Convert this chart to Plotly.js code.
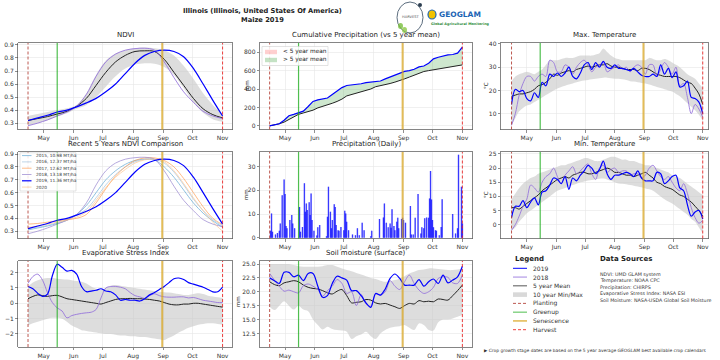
<!DOCTYPE html>
<html><head><meta charset="utf-8">
<script src="https://cdn.plot.ly/plotly-3.0.1.min.js"></script>
<style>html,body{margin:0;padding:0;background:#fff;}#chart{width:720px;height:360px;}</style>
</head><body><div id="chart"></div>
<script>
// ---------------- DATA ----------------
const monthTicks = ['2019-05-01','2019-06-01','2019-07-01','2019-08-01','2019-09-01','2019-10-01','2019-11-01'];
const monthLabels = ['May','Jun','Jul','Aug','Sep','Oct','Nov'];
const eventNames = ['Planting','Greenup','Senescence','Harvest'];
const eventDates = ['2019-04-15','2019-05-15','2019-08-31','2019-11-01'];

const ndviDates = ['2019-04-15','2019-04-25','2019-05-05','2019-05-15','2019-05-25','2019-06-04','2019-06-14','2019-06-24','2019-07-04','2019-07-14','2019-07-24','2019-08-03','2019-08-13','2019-08-23','2019-09-02','2019-09-12','2019-09-22','2019-10-02','2019-10-12','2019-10-22','2019-11-01'];
const ndvi2019 = [0.32,0.34,0.36,0.385,0.40,0.425,0.455,0.49,0.54,0.60,0.68,0.76,0.82,0.85,0.86,0.85,0.81,0.72,0.60,0.475,0.355];
const ndvi2018 = [0.28,0.30,0.325,0.355,0.385,0.43,0.52,0.66,0.77,0.83,0.86,0.872,0.875,0.86,0.77,0.65,0.54,0.46,0.39,0.355,0.335];
const ndviMean = [0.32,0.335,0.35,0.37,0.39,0.43,0.49,0.59,0.69,0.77,0.82,0.85,0.855,0.85,0.79,0.69,0.59,0.49,0.41,0.365,0.34];
const ndviMax  = [0.355,0.37,0.385,0.40,0.415,0.44,0.53,0.67,0.78,0.835,0.86,0.875,0.88,0.875,0.86,0.82,0.74,0.64,0.53,0.44,0.37];
const ndviMin  = [0.28,0.30,0.32,0.35,0.375,0.41,0.44,0.50,0.58,0.66,0.72,0.75,0.76,0.755,0.73,0.67,0.57,0.46,0.38,0.33,0.31];
const ndvi2015 = [0.31,0.325,0.34,0.36,0.385,0.43,0.50,0.60,0.70,0.77,0.82,0.85,0.86,0.855,0.80,0.72,0.62,0.52,0.44,0.38,0.33];
const ndvi2016 = [0.32,0.33,0.345,0.365,0.39,0.43,0.47,0.56,0.66,0.74,0.80,0.84,0.86,0.86,0.83,0.76,0.66,0.55,0.46,0.39,0.34];
const ndvi2017 = [0.355,0.36,0.37,0.38,0.39,0.40,0.43,0.52,0.63,0.73,0.80,0.85,0.87,0.87,0.85,0.80,0.71,0.60,0.49,0.40,0.35];
const ndvi2020 = [0.33,0.34,0.355,0.37,0.385,0.41,0.45,0.54,0.64,0.72,0.78,0.83,0.855,0.86,0.84,0.77,0.67,0.56,0.46,0.37,0.30];
const cmpLabels = ['2015, 10.98 MT/ha','2016, 12.37 MT/ha','2017, 12.62 MT/ha','2018, 13.18 MT/ha','2019, 11.36 MT/ha','2020'];

const d5 = ['2019-04-15','2019-04-20','2019-04-25','2019-04-30','2019-05-05','2019-05-10','2019-05-15','2019-05-20','2019-05-25','2019-05-30','2019-06-04','2019-06-09','2019-06-14','2019-06-19','2019-06-24','2019-06-29','2019-07-04','2019-07-09','2019-07-14','2019-07-19','2019-07-24','2019-07-29','2019-08-03','2019-08-08','2019-08-13','2019-08-18','2019-08-23','2019-08-28','2019-09-02','2019-09-07','2019-09-12','2019-09-17','2019-09-22','2019-09-27','2019-10-02','2019-10-07','2019-10-12','2019-10-17','2019-10-22','2019-10-27','2019-11-01'];
const cum2019 = [0,10,22,60,110,125,140,160,210,265,282,292,302,340,380,415,438,442,447,457,470,475,478,487,510,530,550,575,592,600,615,640,650,680,728,745,760,770,775,790,855];
const cumMean = [0,10,22,40,70,100,125,140,155,170,195,210,225,245,265,290,325,340,355,370,385,400,425,435,445,460,475,490,510,530,550,570,590,600,610,620,630,640,648,655,662];

const esi2019 = [1.1,0.95,0.65,0.45,0.6,1.8,2.55,2.35,2.1,2.15,1.9,1.1,0.76,0.8,0.85,0.95,0.8,0.75,0.55,0.2,0.25,0.2,0.2,0.15,0.3,0.55,0.7,0.9,1.1,1.35,1.6,1.65,1.55,1.35,1.25,1.15,1.05,0.9,0.75,0.75,1.05];
const esi2018 = [1.3,1.75,1.9,1.5,0.7,0.05,-0.3,-0.5,-0.95,-0.8,-0.72,-0.66,-0.62,-0.58,-0.4,0.35,1.0,1.1,1.1,1.05,0.95,0.7,0.5,0.42,0.33,0.5,0.62,0.5,0.42,0.4,0.4,0.42,0.42,0.35,0.38,0.3,0.2,0.15,0.1,0.05,0.05];
const esiMean = [0.3,0.45,0.55,0.5,0.45,0.5,0.52,0.42,0.3,0.25,0.2,0.15,0.1,0.05,0.0,-0.05,0.05,0.15,0.25,0.3,0.3,0.32,0.3,0.3,0.28,0.25,0.2,0.15,0.05,-0.05,-0.1,-0.1,-0.05,-0.05,0.0,0.0,-0.05,-0.1,-0.15,-0.2,-0.25];
const esiMax  = [1.1,1.35,1.5,1.6,1.65,1.65,1.6,1.57,1.55,1.5,1.45,1.4,1.3,1.1,0.95,0.9,1.0,1.15,1.2,1.15,1.1,1.05,1.0,0.95,0.9,0.85,0.8,0.75,0.72,0.7,0.65,0.6,0.55,0.55,0.6,0.65,0.6,0.5,0.45,0.4,0.35];
const esiMin  = [-1.45,-1.3,-1.2,-1.1,-1.0,-0.95,-0.95,-1.0,-1.2,-1.45,-1.6,-1.75,-1.8,-1.85,-1.9,-1.95,-2.0,-2.0,-2.05,-2.1,-2.1,-2.15,-2.15,-2.2,-2.2,-2.25,-2.3,-2.35,-2.4,-2.25,-2.1,-1.9,-1.75,-1.6,-1.5,-1.4,-1.35,-1.3,-1.3,-1.35,-1.4];

const soil2019 = [22.5,22.0,21.5,23.5,23.5,22.7,23.0,22.0,23.3,23.3,21.0,19.0,19.3,21.5,22.8,22.5,22.1,20.2,20.2,19.3,18.0,17.2,19.7,19.4,20.5,22.4,23.2,22.4,21.2,21.2,21.2,22.2,21.0,21.8,22.3,21.5,23.0,21.6,22.1,22.7,24.6];
const soil2018 = [23.3,22.1,21.0,20.1,20.3,20.0,19.8,21.1,21.4,21.0,20.4,19.2,20.2,21.0,22.2,21.5,19.7,20.0,17.5,19.5,17.8,17.4,19.6,19.4,20.0,22.0,21.0,20.4,21.8,23.0,21.5,20.3,19.7,20.0,20.8,22.4,22.7,22.6,21.6,21.5,23.0];
const soilMean = [21.8,21.3,21.1,21.6,21.8,22.0,21.8,21.2,20.8,20.6,20.5,20.2,19.8,19.6,20.1,20.4,19.3,18.0,18.1,18.2,18.6,18.5,18.0,17.8,17.9,17.6,17.3,17.0,17.5,17.9,17.8,18.4,18.2,18.3,18.2,18.7,18.6,18.5,19.3,20.2,21.2];
const soilMax  = [25.0,25.0,25.0,25.0,25.0,24.8,24.6,24.5,24.5,24.5,24.5,24.6,24.8,24.8,24.5,24.2,23.9,23.7,23.4,23.1,22.8,22.5,22.3,22.0,21.8,21.9,22.1,22.4,22.8,23.3,23.6,23.9,24.0,24.2,24.2,24.1,24.0,23.9,23.9,24.0,24.2];
const soilMin  = [17.3,16.7,17.5,18.3,17.5,16.8,17.5,16.8,16.5,15.0,14.0,13.2,13.7,13.3,13.1,13.0,12.8,11.5,12.0,12.3,12.8,12.0,11.5,12.5,13.1,13.5,13.7,13.8,14.0,13.5,13.1,14.3,14.0,13.1,13.0,14.5,15.0,15.0,15.2,15.5,15.8];

const tDates = ['2019-04-15','2019-04-19','2019-04-23','2019-04-27','2019-05-01','2019-05-05','2019-05-09','2019-05-13','2019-05-17','2019-05-21','2019-05-25','2019-05-29','2019-06-02','2019-06-06','2019-06-10','2019-06-14','2019-06-18','2019-06-22','2019-06-26','2019-06-30','2019-07-04','2019-07-08','2019-07-12','2019-07-16','2019-07-20','2019-07-24','2019-07-28','2019-08-01','2019-08-05','2019-08-09','2019-08-13','2019-08-17','2019-08-21','2019-08-25','2019-08-29','2019-09-02','2019-09-06','2019-09-10','2019-09-14','2019-09-18','2019-09-22','2019-09-26','2019-09-30','2019-10-04','2019-10-08','2019-10-12','2019-10-16','2019-10-20','2019-10-24','2019-10-28','2019-11-01'];
const tmax2019 = [14,20.5,19.5,20,16.5,15.5,19,17,23.5,22,27,26,27.5,26,27.5,30,26,25,27.5,31,32,29,32,30,32.5,30,29.5,31,29.5,29.5,29,28.5,29.5,28,26.5,26,26,27,26,31,27,29.5,25.5,28,21.5,22,24,17,16.5,15,10];
const tmax2018 = [5,10,18,23,26,26,24,26,27,26,33,32,28,28,31,30,27,30,32,33,31,28,30,31,32,28,29,30,31,29,30,28,30,31,30,27,31,31,26,29,32,30,27,30,22,23,17,10,14,12,8.5];
const tmaxMean = [17.5,18,18.5,18.5,19,19.5,20.5,22,22.5,23.5,25,27,26.5,27.5,28,28.5,28,29,29.5,30,30.5,30,30.5,31,31,31.5,30.5,30,30,29.5,29,29,29,28.5,29.5,29.5,29,28,27,26.5,26,26,26,26,25.5,24.5,23.5,23,21,18.5,14];
const tmaxHi = [24,26,27,27.5,28,27.5,27,28,29,31,33,33,33,33.5,34,34,34,34.5,35,35,35,35,35.5,36,38,36.5,35,34,33.5,33,33,33,33,33,33,33,34,33.5,33,33,33.5,33,32,31,30,28.5,27,26,25,23,21];
const tmaxLo = [5,8,11,12.5,13.5,14,15,16,17,18,19,20,20.8,21.5,22,22.5,23,23.5,24,24.3,24.5,24.8,25,25.2,25.5,25.5,25.2,25,25,24.8,24.5,24,23.8,23.5,23.2,23,22.5,22,21.5,21,20.5,20,19.5,18.5,17.5,16,14.5,13,11.5,9.5,7];
const tmin2019 = [2.5,6.5,6.5,8.5,6,8,9.5,7,11.5,12,14,16.5,16,14.5,17,12.5,16.5,15.5,17.5,19,21,20,18,19.5,22.5,18,16,17.5,17.5,18,18.5,18,17,19,16.5,15.5,15.5,15.5,18.5,18,14.5,15.5,17,17.5,13,12,7,3,4.5,5,2];
const tmin2018 = [-2,0,3,6.5,9,14,13,11.5,15,17,18,20,17,14.5,17.5,19,20.5,18,19,20.5,21.5,18,16,20,21,18.5,19.5,20,18.5,19,19,17.5,18,18,16.5,17.5,20,21,19,17,16,17,15,13,12,14.5,11,6,2.5,0.5,1.5];
const tminMean = [6,6,5.5,6.5,7.5,8.5,9.5,10.5,12,13,14,15,16,16.5,17,16.5,17.5,18,18.5,18.5,18,18,18.5,19,19.5,20,19.5,18.5,18.5,18,17.5,17.5,17,17.5,18,18.5,17.5,16.5,15,14.5,13.5,13,12.5,11.5,10.5,10,9,8,6.5,5,3];
const tminHi = [9,11,13,14.5,15.5,16.5,17,18,18.5,19,19.5,20,20.5,21,21,21.5,22,22.5,23,23.5,23.5,23,22.5,22.5,23,23.5,24,24,23.5,23,23,22.5,22.5,22,21.5,21,21,20.5,20,19.5,19,18.5,17.5,17,16.5,15.5,14.5,13.5,12.5,11.5,10.5];
const tminLo = [-2,-1,1,2.5,4,5,6,7,8,9,10,11,12,12.5,13,13.5,14,14.5,15,15.3,15.6,15.8,16,16.2,16.3,16,15.5,15,14.6,14.5,14.3,14,13.8,13.5,13.2,12.8,12.5,12,11,10,9,8.2,7.5,6.5,5.5,4.5,3.5,2,1,-1,-3];

const rainDates = ['2019-04-16','2019-04-17','2019-04-18','2019-04-21','2019-04-23','2019-04-25','2019-04-26','2019-04-28','2019-04-30','2019-05-01','2019-05-02','2019-05-03','2019-05-06','2019-05-08','2019-05-09','2019-05-11','2019-05-16','2019-05-17','2019-05-19','2019-05-21','2019-05-22','2019-05-23','2019-05-24','2019-05-26','2019-05-27','2019-05-28','2019-05-29','2019-05-31','2019-06-03','2019-06-04','2019-06-06','2019-06-13','2019-06-14','2019-06-15','2019-06-17','2019-06-18','2019-06-19','2019-06-21','2019-06-22','2019-06-23','2019-06-25','2019-06-26','2019-06-28','2019-07-01','2019-07-02','2019-07-03','2019-07-04','2019-07-06','2019-07-10','2019-07-13','2019-07-15','2019-07-17','2019-07-20','2019-07-22','2019-07-29','2019-07-30','2019-08-07','2019-08-11','2019-08-12','2019-08-14','2019-08-16','2019-08-18','2019-08-19','2019-08-20','2019-08-22','2019-08-23','2019-08-25','2019-08-26','2019-08-27','2019-08-30','2019-08-31','2019-09-01','2019-09-03','2019-09-08','2019-09-09','2019-09-11','2019-09-13','2019-09-16','2019-09-19','2019-09-20','2019-09-22','2019-09-23','2019-09-25','2019-09-27','2019-09-28','2019-09-29','2019-09-30','2019-10-01','2019-10-02','2019-10-04','2019-10-05','2019-10-08','2019-10-10','2019-10-11','2019-10-22','2019-10-25','2019-10-27','2019-10-28','2019-10-31','2019-11-01'];
const rainMm = [3,10.3,2.5,1.4,2,3,6,18,24.6,18.5,5,4,7.5,9.6,6,4,13,2.5,4.6,23,11,14.5,11.7,15,9.6,18.7,7.5,3,1,4.4,5.4,0.7,8.9,21.5,11,4,7.5,14.2,13,5.4,3.2,3,4.6,3.2,11.4,10.3,6.8,3.2,1.4,1.1,4,1.1,6.3,3.2,0.7,3,7.9,8.6,14.5,6.3,4.4,6,4.2,12,5,3.2,6.8,8.5,4,7.9,8.5,7.5,6.3,13.4,1.4,1.4,8.5,18.5,1.8,4.4,4,8.2,8.6,8.5,16.6,28.2,16.2,7.5,4.4,3.2,3,1.1,4.6,16.3,10,1.8,4,35,21.5,6];

const legendLabels = ['2019','2018','5 year Mean','10 year Min/Max','Planting','Greenup','Senescence','Harvest'];
const sourceLines = ['NDVI: UMD GLAM system','Temperature: NOAA CPC','Precipitation: CHIRPS','Evaporative Stress Index: NASA ESI','Soil Moisture: NASA-USDA Global Soil Moisture'];
const panelTitles = ['NDVI','Cumulative Precipitation (vs 5 year mean)','Max. Temperature','Recent 5 Years NDVI Comparison','Precipitation (Daily)','Min. Temperature','Evaporative Stress Index','Soil moisture (surface)'];

// ---------------- STYLE / LAYOUT ----------------
const FONT = 'DejaVu Sans, Arial, sans-serif';
const P = x => x/720, Q = y => 1 - y/360;
const C19 = '#0000ff', C18 = 'rgba(147,112,219,0.85)', CM = '#222222', CBAND = 'rgba(200,200,200,0.62)';
const evColors = ['rgba(178,60,50,0.85)','rgba(20,170,20,0.75)','rgba(218,165,32,0.75)','rgba(235,30,30,0.85)'];
const evDash = ['3px,2px','solid','solid','3px,2px'];
const evWidth = [1,1.2,2,1];
const LR = ['2019-04-05','2019-11-11'], RR = ['2019-04-04','2019-11-06 12:00'];
const panels = [
  {xd:[18.3,232.3], yd:[43,129.5], xr:LR, yr:[0.251,0.915], dtick:0.1, fmt:'.1f'},
  {xd:[260,472], yd:[43,129.5], xr:LR, yr:[-40,900], dtick:200},
  {xd:[501,708], yd:[43,129.5], xr:RR, yr:[3.2,40.4], dtick:10},
  {xd:[18.3,232.3], yd:[152,238.5], xr:LR, yr:[0.243,0.916], dtick:0.1, fmt:'.1f'},
  {xd:[260,472], yd:[152,238.5], xr:LR, yr:[-0.3,36.2], dtick:10},
  {xd:[501,708], yd:[152,238.5], xr:RR, yr:[-4.9,25.7], dtick:5},
  {xd:[18.3,232.3], yd:[261,347], xr:LR, yr:[-2.85,2.76], dtick:1},
  {xd:[260,472], yd:[261,347], xr:LR, yr:[10.05,25.54], dtick:2.5, tick0:12.5, fmt:'.1f'}
];
const layout = {width:720, height:360, margin:{l:0,r:0,t:0,b:0}, paper_bgcolor:'#fff', plot_bgcolor:'#fff',
  showlegend:false, font:{family:FONT, size:6, color:'#333'}, barmode:'overlay', shapes:[], annotations:[]};
const axName = i => i===0 ? '' : String(i+1);
panels.forEach((p,i)=>{
  const common = {showline:true, mirror:true, linecolor:'#666', linewidth:0.8, showgrid:true, gridcolor:'#e6e6e6', gridwidth:0.6,
    zeroline:false, ticks:'outside', ticklen:2.5, tickwidth:0.6, tickcolor:'#444', tickfont:{size:6, color:'#333', family:FONT}, fixedrange:true};
  layout['xaxis'+axName(i)] = Object.assign({}, common, {domain:[P(p.xd[0]),P(p.xd[1])], anchor:'y'+axName(i), type:'date', range:p.xr,
    tickmode:'array', tickvals:monthTicks, ticktext:monthLabels});
  const ya = Object.assign({}, common, {domain:[Q(p.yd[1]),Q(p.yd[0])], anchor:'x'+axName(i), range:p.yr, dtick:p.dtick});
  if (p.fmt) ya.tickformat = p.fmt;
  if (p.tick0 !== undefined) ya.tick0 = p.tick0;
  layout['yaxis'+axName(i)] = ya;
  eventDates.forEach((d,k)=>{
    layout.shapes.push({type:'line', xref:'x'+axName(i), yref:'y'+axName(i)+' domain', x0:d, x1:d, y0:0, y1:1,
      line:{color:evColors[k], width:evWidth[k], dash:evDash[k]}});
  });
  layout.annotations.push({xref:'paper', yref:'paper', x:P((p.xd[0]+p.xd[1])/2), y:Q(p.yd[0]-2), yanchor:'bottom', xanchor:'center',
    text:panelTitles[i], showarrow:false, font:{size:7, color:'#222', family:FONT}});
});

// ---------------- TRACES ----------------
const traces = [];
function ax(i){ return {xaxis:'x'+axName(i), yaxis:'y'+axName(i)}; }
function line(x,y,i,color,width,shape){ traces.push(Object.assign({type:'scatter', mode:'lines', x:x, y:y,
  line:{color:color, width:width, shape:shape||'spline', smoothing:0.9}, hoverinfo:'skip'}, ax(i))); }
function band(x,lo,hi,i){
  traces.push(Object.assign({type:'scatter', mode:'lines', x:x, y:lo, line:{width:0, shape:'spline', smoothing:0.9}, hoverinfo:'skip'}, ax(i)));
  traces.push(Object.assign({type:'scatter', mode:'lines', x:x, y:hi, fill:'tonexty', fillcolor:CBAND, line:{width:0, shape:'spline', smoothing:0.9}, hoverinfo:'skip'}, ax(i)));
}
band(ndviDates, ndviMin, ndviMax, 0);
line(ndviDates, ndviMean, 0, CM, 1);
line(ndviDates, ndvi2018, 0, C18, 1);
line(ndviDates, ndvi2019, 0, C19, 1.2);
line(d5, cumMean, 1, CM, 1, 'linear');
traces.push(Object.assign({type:'scatter', mode:'lines', x:d5, y:cum2019, fill:'tonexty', fillcolor:'rgba(60,160,60,0.25)',
  line:{color:C19, width:1.2}, hoverinfo:'skip'}, ax(1)));
band(tDates, tmaxLo, tmaxHi, 2);
line(tDates, tmaxMean, 2, CM, 1);
line(tDates, tmax2018, 2, C18, 1);
line(tDates, tmax2019, 2, C19, 1.2);
const cmpSeries = [ndvi2015, ndvi2016, ndvi2017, ndvi2018, ndvi2019, ndvi2020];
const cmpColors = ['rgba(107,174,214,0.75)','rgba(170,200,225,0.75)','rgba(253,150,70,0.65)','rgba(158,140,210,0.75)','#0000ff','rgba(253,190,130,0.6)'];
const cmpWidth = [1,1,1,1,1.2,1];
[0,1,2,3,5,4].forEach(k=> line(ndviDates, cmpSeries[k], 3, cmpColors[k], cmpWidth[k]));
traces.push(Object.assign({type:'bar', x:rainDates, y:rainMm, width:86400000*1.8, marker:{color:'rgba(40,40,255,0.45)', line:{width:0}}, hoverinfo:'skip'}, ax(4)));
traces.push(Object.assign({type:'bar', x:rainDates, y:rainMm, width:86400000*0.7, marker:{color:'rgba(0,0,255,0.95)', line:{width:0}}, hoverinfo:'skip'}, ax(4)));
band(tDates, tminLo, tminHi, 5);
line(tDates, tminMean, 5, CM, 1);
line(tDates, tmin2018, 5, C18, 1);
line(tDates, tmin2019, 5, C19, 1.2);
band(d5, esiMin, esiMax, 6);
line(d5, esiMean, 6, CM, 1);
line(d5, esi2018, 6, C18, 1);
line(d5, esi2019, 6, C19, 1.2);
band(d5, soilMin, soilMax, 7);
line(d5, soilMean, 7, CM, 1);
line(d5, soil2018, 7, C18, 1);
line(d5, soil2019, 7, C19, 1.2);

// ---------------- TEXT / DECOR ----------------
const A = layout.annotations, S = layout.shapes;
function txt(x,y,text,size,opt){ A.push(Object.assign({xref:'paper', yref:'paper', x:P(x), y:Q(y), text:text, showarrow:false,
  xanchor:'center', yanchor:'middle', font:{size:size, color:'#222', family:FONT}}, opt||{})); }
txt(262, 11, '<b>Illinois (Illinois, United States Of America)</b>', 6.7);
txt(262, 20, '<b>Maize 2019</b>', 6.7);
txt(247, 86, 'mm', 5.5, {textangle:-90});
txt(246, 195, 'mm', 5.5, {textangle:-90});
txt(486, 86, '°C', 5.5, {textangle:-90});
txt(486, 195, '°C', 5.5, {textangle:-90});
txt(238, 302, 'mm', 5.5, {textangle:-90});

// logos
S.push({type:'circle', xref:'paper', yref:'paper', x0:P(397), x1:P(423), y0:Q(33), y1:Q(2), line:{color:'#34495e', width:0.8}});
S.push({type:'circle', xref:'paper', yref:'paper', x0:P(418), x1:P(422), y0:Q(7), y1:Q(3), fillcolor:'#2c3e50', line:{width:0}});
S.push({type:'circle', xref:'paper', yref:'paper', x0:P(398), x1:P(403), y0:Q(29), y1:Q(23), fillcolor:'rgba(120,190,60,0.8)', line:{width:0}});
S.push({type:'circle', xref:'paper', yref:'paper', x0:P(402), x1:P(407), y0:Q(33), y1:Q(27), fillcolor:'rgba(140,200,70,0.8)', line:{width:0}});
txt(410, 17, 'HARVEST', 3.6, {font:{size:3.6, color:'#555', family:FONT}});
S.push({type:'circle', xref:'paper', yref:'paper', x0:P(428), x1:P(436), y0:Q(19), y1:Q(10), fillcolor:'#f2c200', line:{color:'#1b64b4', width:1.2}});
txt(437, 14.5, '<b>GEOGLAM</b>', 7.5, {xanchor:'left', font:{size:7.5, color:'#1b64b4', family:FONT}});
txt(429, 24, '<b>Global Agricultural Monitoring</b>', 3.4, {xanchor:'left', font:{size:3.4, color:'#2e8b3a', family:FONT}});

// cumulative precipitation legend
S.push({type:'rect', xref:'paper', yref:'paper', x0:P(262), x1:P(328), y0:Q(65.5), y1:Q(46.5), fillcolor:'rgba(255,255,255,0.85)', line:{color:'#d0d0d0', width:0.6}});
S.push({type:'rect', xref:'paper', yref:'paper', x0:P(265), x1:P(277), y0:Q(54.2), y1:Q(49.8), fillcolor:'rgba(255,120,120,0.35)', line:{width:0}});
S.push({type:'rect', xref:'paper', yref:'paper', x0:P(265), x1:P(277), y0:Q(62.2), y1:Q(57.8), fillcolor:'rgba(60,160,60,0.3)', line:{width:0}});
txt(281, 52, '&lt; 5 year mean', 5.8, {xanchor:'left'});
txt(281, 60, '&gt; 5 year mean', 5.8, {xanchor:'left'});

// NDVI comparison legend
S.push({type:'rect', xref:'paper', yref:'paper', x0:P(20), x1:P(76), y0:Q(191), y1:Q(152.8), fillcolor:'rgba(255,255,255,0.85)', line:{color:'#d0d0d0', width:0.6}});
cmpLabels.forEach((lab,k)=>{
  const yy = 155.6 + 6.3*k;
  S.push({type:'line', xref:'paper', yref:'paper', x0:P(22), x1:P(31.5), y0:Q(yy), y1:Q(yy), line:{color:cmpColors[k], width:cmpWidth[k]}});
  txt(33.5, yy, lab, 4.3, {xanchor:'left', font:{size:4.3, color:'#333', family:FONT}});
});

// main legend (bottom right)
txt(513, 259, '<b>Legend</b>', 7, {xanchor:'left'});
const legColors = [C19, C18, '#555', null, evColors[0], evColors[1], evColors[2], evColors[3]];
const legDash = ['solid','solid','solid','solid','3px,2px','solid','solid','3px,2px'];
legendLabels.forEach((lab,k)=>{
  const yy = 268.3 + 8.77*k;
  if (k===3) S.push({type:'rect', xref:'paper', yref:'paper', x0:P(513), x1:P(527), y0:Q(yy+2.3), y1:Q(yy-2.3), fillcolor:'#d9d9d9', line:{width:0}});
  else S.push({type:'line', xref:'paper', yref:'paper', x0:P(513), x1:P(527), y0:Q(yy), y1:Q(yy), line:{color:legColors[k], width:k===6?1.6:1, dash:legDash[k]}});
  txt(531, yy, lab, 6, {xanchor:'left', font:{size:6, color:'#333', family:FONT}});
});
txt(598, 259, '<b>Data Sources</b>', 7, {xanchor:'left'});
sourceLines.forEach((s,k)=> txt(598, 274 + 6.5*k, s, 4.8, {xanchor:'left', font:{size:4.8, color:'#333', family:FONT}}));
txt(482, 350, '▶ Crop growth stage dates are based on the 5 year average GEOGLAM best available crop calendars', 4.4, {xanchor:'left', font:{size:4.4, color:'#333', family:FONT}});

Plotly.newPlot('chart', traces, layout, {staticPlot:true, displayModeBar:false});
</script></body></html>
